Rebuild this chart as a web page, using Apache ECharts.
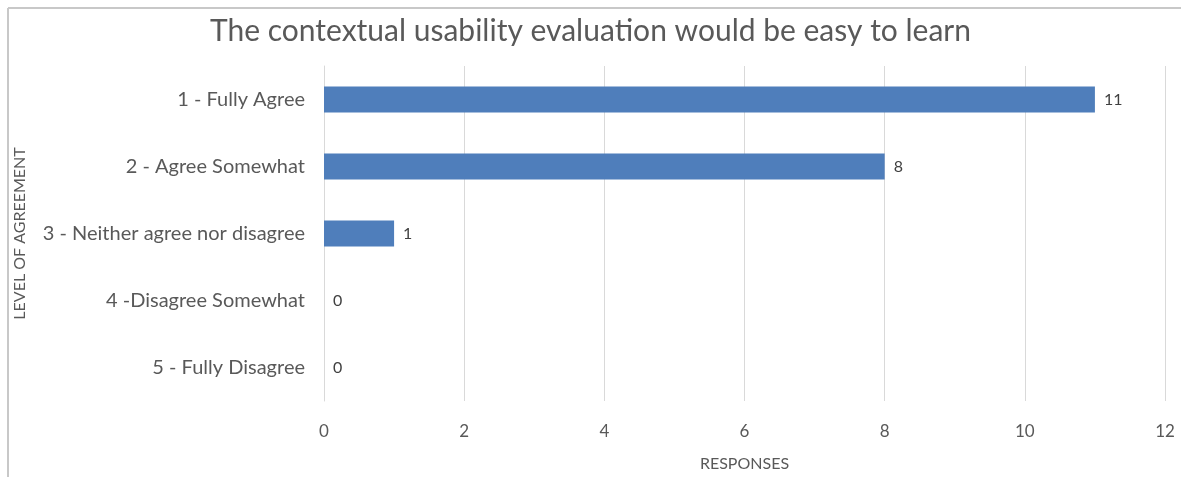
<!DOCTYPE html>
<html>
<head>
<meta charset="utf-8">
<script src="https://cdn.jsdelivr.net/npm/echarts@6/dist/echarts.min.js"></script>
<style>
  html, body { margin: 0; padding: 0; background: #fff; }
  #chart { width: 1181px; height: 477px; }
</style>
</head>
<body>
<div id="chart"></div>
<script>
  // data
  const categories = ['1 - Fully Agree', '2 - Agree Somewhat', '3 - Neither agree nor disagree', '4 -Disagree Somewhat', '5 - Fully Disagree'];
  const responses = [11, 8, 1, 0, 0];
  const titleText = 'The contextual usability evaluation would be easy to learn';

  const font = 'Lato, "Open Sans", sans-serif';
  const chart = echarts.init(document.getElementById('chart'));
  chart.setOption({
    animation: false,
    textStyle: { fontFamily: font },
    title: {
      text: titleText,
      left: 'center',
      top: 11,
      textStyle: { fontFamily: font, fontSize: 30, fontWeight: 'normal', color: '#595959' }
    },
    // frame of the chart box (top and left edges only are visible)
    graphic: [
      { type: 'line', shape: { x1: 8, y1: 8, x2: 1181, y2: 8 }, style: { stroke: '#c8c8c8', lineWidth: 2 } },
      { type: 'line', shape: { x1: 8, y1: 8, x2: 8, y2: 477 }, style: { stroke: '#c8c8c8', lineWidth: 2 } }
    ],
    grid: { left: 324, right: 16, top: 66, bottom: 71 },
    xAxis: {
      type: 'value',
      min: 0,
      max: 12,
      interval: 2,
      name: 'RESPONSES',
      nameLocation: 'middle',
      nameGap: 55,
      nameTextStyle: { fontSize: 16, color: '#595959' },
      axisLine: { show: false },
      axisTick: { show: false },
      axisLabel: { fontSize: 17, color: '#595959', margin: 22 },
      splitLine: { lineStyle: { color: '#d9d9d9' } }
    },
    yAxis: {
      type: 'category',
      data: categories,
      inverse: true,
      name: 'LEVEL OF AGREEMENT',
      nameLocation: 'middle',
      nameRotate: 90,
      nameGap: 296,
      nameTextStyle: { fontSize: 16, color: '#595959' },
      axisLine: { show: true, lineStyle: { color: '#d9d9d9' } },
      axisTick: { show: false },
      axisLabel: { fontSize: 20, color: '#595959', margin: 19 }
    },
    series: [{
      type: 'bar',
      data: responses,
      barWidth: 26,
      itemStyle: { color: '#4f7ebb' },
      label: { show: true, position: 'right', distance: 9, fontSize: 16, color: '#404040' }
    }]
  });
</script>
</body>
</html>
